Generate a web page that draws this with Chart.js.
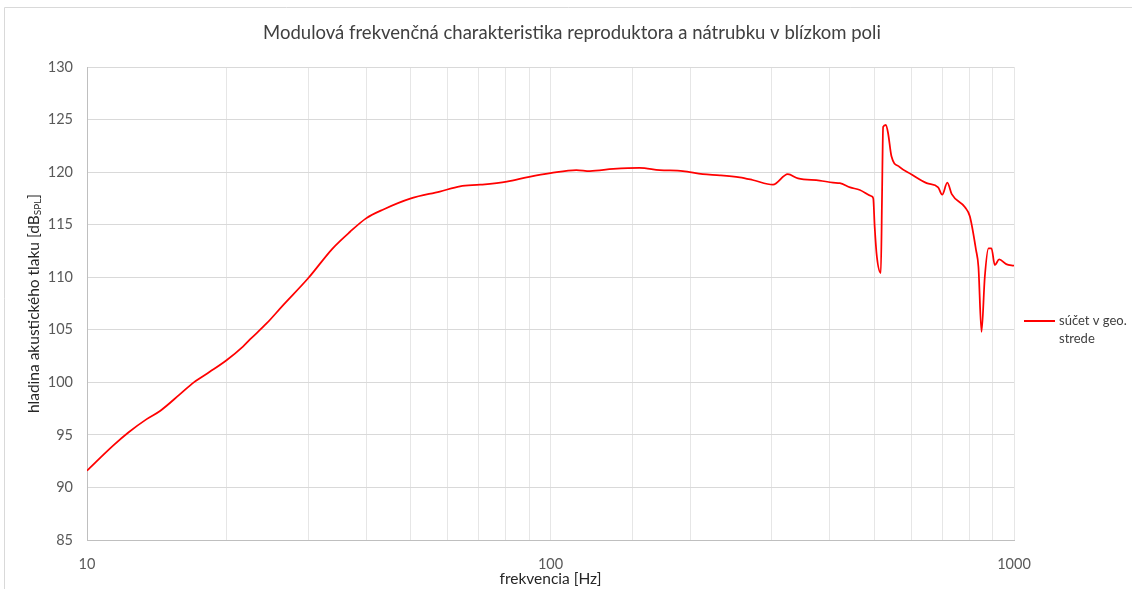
<!DOCTYPE html>
<html lang="sk">
<head>
    <meta charset="UTF-8">
    <title>Modulová frekvenčná charakteristika</title>
    <script src="https://cdn.jsdelivr.net/npm/chart.js"></script>
    <style>
        body { margin: 0; background: #fff; }
        #wrap { position: relative; width: 1132px; height: 589px; }
    </style>
</head>
<body>
    <div id="wrap">
        <canvas id="frekvChart" width="1132" height="589"></canvas>
    </div>

    <script>
        // odčítané hodnoty z grafu
        const frekvencia = [10, 11.4, 12.3, 13.45, 14.4, 15.9, 17, 18.4, 20, 21.7, 22.5, 24.4, 26.5, 30, 33.9, 36.9, 40, 43.6, 50, 57.7,
            63.8, 70.5, 80.5, 90, 100, 113.7, 121.6, 136.6, 155.6, 172, 193, 213, 232, 256, 273, 302, 325, 342, 381, 407,
            421, 443, 465, 493, 497, 500.5, 506, 516, 519, 522, 529, 535, 544, 566, 600, 648, 686, 700, 718, 734,
            784, 803, 828, 838, 851, 865, 881, 894, 909, 929, 962, 1000];
        const hladina = [91.6, 94.0, 95.25, 96.5, 97.3, 98.9, 100.0, 101.0, 102.1, 103.4, 104.1, 105.6, 107.35, 109.9, 112.75, 114.3, 115.6, 116.45, 117.5, 118.15,
            118.65, 118.8, 119.1, 119.55, 119.9, 120.2, 120.1, 120.3, 120.4, 120.2, 120.1, 119.8, 119.7, 119.5, 119.25, 118.8, 119.8, 119.4, 119.2, 119.0,
            118.95, 118.55, 118.3, 117.7, 117.5, 114.8, 111.95, 110.4, 117.35, 124.3, 124.5, 123.7, 121.5, 120.5, 119.8, 118.95, 118.55, 117.85, 119.0, 117.9,
            116.65, 115.8, 112.6, 111.0, 104.8, 110.05, 112.75, 112.75, 111.15, 111.7, 111.25, 111.1];
        const xTickLabels = [10, 100, 1000];
        const yTicks = [85, 90, 95, 100, 105, 110, 115, 120, 125, 130];

        const nazov = 'Modulová frekvenčná charakteristika reproduktora a nátrubku v blízkom poli';
        const seriesName = ['súčet v geo.', 'strede'];
        const FONT = 'Lato, "Open Sans", sans-serif';

        // titulky, legenda a os Y s indexom (SPL) kreslené ručne
        const textyPlugin = {
            id: 'texty',
            afterDraw(chart) {
                const ctx = chart.ctx;
                const area = chart.chartArea;
                ctx.save();

                // rámček okolo grafu
                ctx.strokeStyle = '#d9d9d9';
                ctx.lineWidth = 1;
                ctx.beginPath();
                ctx.moveTo(4.5, 589);
                ctx.lineTo(4.5, 7.5);
                ctx.lineTo(1132, 7.5);
                ctx.stroke();

                ctx.fillStyle = '#404040';
                ctx.textAlign = 'center';
                ctx.textBaseline = 'middle';
                ctx.font = '18.5px ' + FONT;
                ctx.fillText(nazov, 572, 33);

                ctx.fillStyle = '#262626';
                ctx.font = '15.5px ' + FONT;
                ctx.fillText('frekvencia [Hz]', (area.left + area.right) / 2, 579);

                // os Y
                ctx.translate(34, (area.top + area.bottom) / 2);
                ctx.rotate(-Math.PI / 2);
                const hlavny = 'hladina akustického tlaku [dB';
                ctx.font = '15.5px ' + FONT;
                const w1 = ctx.measureText(hlavny).width;
                ctx.font = '10px ' + FONT;
                const w2 = ctx.measureText('SPL').width;
                ctx.font = '15.5px ' + FONT;
                const w3 = ctx.measureText(']').width;
                let x0 = -(w1 + w2 + w3) / 2;
                ctx.textAlign = 'left';
                ctx.fillText(hlavny, x0, 0);
                ctx.font = '10px ' + FONT;
                ctx.fillText('SPL', x0 + w1, 4);
                ctx.font = '15.5px ' + FONT;
                ctx.fillText(']', x0 + w1 + w2, 0);
                ctx.restore();

                // legenda
                ctx.save();
                ctx.strokeStyle = '#ff0000';
                ctx.lineWidth = 2;
                ctx.beginPath();
                ctx.moveTo(1024, 321);
                ctx.lineTo(1055, 321);
                ctx.stroke();
                ctx.fillStyle = '#404040';
                ctx.font = '13px ' + FONT;
                ctx.textBaseline = 'middle';
                ctx.fillText(seriesName[0], 1059, 321);
                ctx.fillText(seriesName[1], 1059, 339);
                ctx.restore();
            }
        };

        const body = frekvencia.map((f, i) => ({ x: f, y: hladina[i] }));

        new Chart(document.getElementById('frekvChart'), {
            type: 'line',
            data: {
                datasets: [{
                    label: seriesName.join(' '),
                    data: body,
                    borderColor: '#ff0000',
                    borderWidth: 1.75,
                    pointRadius: 0,
                    cubicInterpolationMode: 'monotone',
                    fill: false
                }]
            },
            options: {
                responsive: false,
                animation: false,
                layout: { padding: { left: 0, top: 67, right: 118, bottom: 0 } },
                plugins: {
                    legend: { display: false },
                    title: { display: false },
                    tooltip: { enabled: false }
                },
                scales: {
                    x: {
                        type: 'logarithmic',
                        min: 10,
                        max: 1000,
                        afterFit(scale) { scale.height = 49; },
                        grid: { color: '#e6e6e6', drawTicks: false },
                        border: { color: '#bfbfbf' },
                        ticks: {
                            autoSkip: false,
                            maxRotation: 0,
                            padding: 16,
                            color: '#595959',
                            font: { family: FONT, size: 14.5 },
                            callback: v => xTickLabels.includes(v) ? String(v) : ''
                        }
                    },
                    y: {
                        min: 85,
                        max: 130,
                        afterFit(scale) { scale.width = 87; },
                        afterBuildTicks(scale) { scale.ticks = yTicks.map(v => ({ value: v })); },
                        grid: { color: '#d9d9d9', drawTicks: false },
                        border: { color: '#bfbfbf' },
                        ticks: {
                            padding: 14,
                            color: '#595959',
                            font: { family: FONT, size: 14.5 }
                        }
                    }
                }
            },
            plugins: [textyPlugin]
        });
    </script>
</body>
</html>
